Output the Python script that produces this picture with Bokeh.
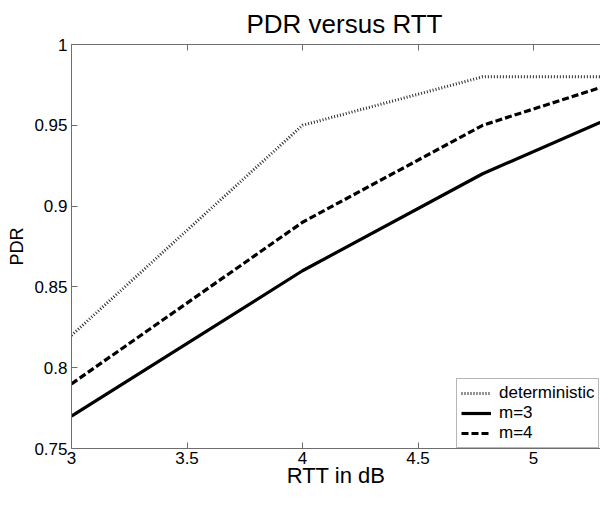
from bokeh.plotting import figure
from bokeh.models import (Range1d, FixedTicker, CustomJSTickFormatter, LinearAxis,
                          Legend, LegendItem)
from bokeh.embed import file_html
from bokeh.resources import INLINE

# data
rtt = [3, 4, 4.78, 5.5]
pdr_det = [0.82, 0.95, 0.98, 0.98]
pdr_m3 = [0.77, 0.86, 0.92, 0.965]
pdr_m4 = [0.79, 0.89, 0.95, 0.983]
x_ticks = [3, 3.5, 4, 4.5, 5, 5.5]
y_ticks = [0.75, 0.8, 0.85, 0.9, 0.95, 1.0]

FONT = "Liberation Sans"
AX = "#6e6e6e"

p = figure(width=600, height=490, output_backend="svg", toolbar_location=None,
           x_range=Range1d(3, 5.29), y_range=Range1d(0.75, 1.0),
           min_border_left=71, min_border_right=0, min_border_top=37,
           min_border_bottom=36, x_axis_label="RTT in dB", y_axis_label="PDR")
p.outline_line_color = None
p.grid.visible = False
p.background_fill_color = "white"
p.border_fill_color = "white"

p.title.text = "PDR versus RTT"
p.title.text_font = FONT
p.title.text_font_size = "26px"
p.title.text_font_style = "normal"
p.title.align = "left"
p.title.offset = 175
p.title.standoff = 12
p.title.text_color = "black"

fmt = CustomJSTickFormatter(code="return tick.toString();")
for ax, ticks in ((p.xaxis[0], x_ticks), (p.yaxis[0], y_ticks)):
    ax.ticker = FixedTicker(ticks=ticks)
    ax.formatter = fmt
    ax.axis_line_color = AX
    ax.major_tick_line_color = AX
    ax.major_tick_in = 6
    ax.major_tick_out = 0
    ax.minor_tick_line_color = None
    ax.major_label_text_font = FONT
    ax.major_label_text_font_size = "17px"
    ax.major_label_text_color = "black"
    ax.major_label_text_line_height = 1.0
    ax.axis_label_text_font = FONT
    ax.axis_label_text_font_style = "normal"
    ax.axis_label_text_color = "black"
    ax.axis_label_text_line_height = 1.0

p.xaxis[0].major_label_standoff = 3
p.xaxis[0].axis_label_text_font_size = "22px"
p.xaxis[0].axis_label_standoff = -4
p.yaxis[0].major_label_standoff = 4
p.yaxis[0].axis_label_text_font_size = "18px"
p.yaxis[0].axis_label_standoff = 4

top = LinearAxis(ticker=FixedTicker(ticks=x_ticks),
                 formatter=CustomJSTickFormatter(code="return '';"),
                 axis_line_color=AX, major_tick_line_color=AX,
                 major_tick_in=6, major_tick_out=0, minor_tick_line_color=None,
                 major_label_standoff=0)
p.add_layout(top, "above")

r_det = p.line(rtt, pdr_det, line_color="#2a2a2a", line_width=3, line_dash="1 2")
r_m3 = p.line(rtt, pdr_m3, line_color="black", line_width=3.2)
r_m4 = p.line(rtt, pdr_m4, line_color="black", line_width=3.2, line_dash="7 3")

legend = Legend(items=[LegendItem(label="deterministic", renderers=[r_det]),
                       LegendItem(label="m=3", renderers=[r_m3]),
                       LegendItem(label="m=4", renderers=[r_m4])],
                location=(385, 0))
legend.label_text_font = FONT
legend.label_text_font_size = "17px"
legend.label_text_color = "black"
legend.glyph_width = 30
legend.glyph_height = 16
legend.label_height = 16
legend.label_standoff = 8
legend.spacing = 0
legend.padding = 4
legend.margin = 0
legend.border_line_color = AX
legend.background_fill_alpha = 1.0
p.add_layout(legend, "center")

open("out.html", "w").write(file_html(p, INLINE))
